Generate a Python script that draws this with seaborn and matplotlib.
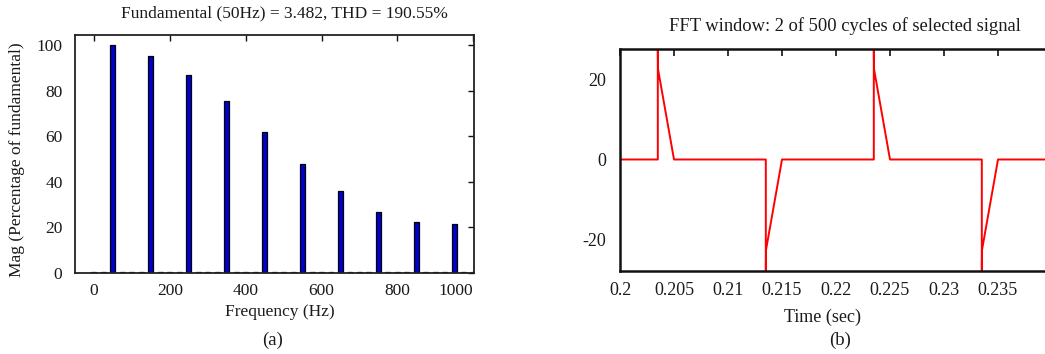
import matplotlib
matplotlib.use("Agg")
import matplotlib.pyplot as plt
import numpy as np
import pandas as pd
import seaborn as sns

# ---------------- data ----------------
freq_hz = [0, 25, 50, 75, 100, 125, 150, 175, 200, 225, 250, 275, 300, 325,
           350, 375, 400, 425, 450, 475, 500, 525, 550, 575, 600, 625, 650,
           675, 700, 725, 750, 775, 800, 825, 850, 875, 900, 925, 950, 975, 1000]
mag_pct = [0.6, 0.6, 100.0, 0.5, 0.5, 0.5, 95.5, 0.5, 0.5, 0.5, 87.0, 0.5, 0.5, 0.5,
           75.5, 0.5, 0.5, 0.5, 62.0, 0.5, 0.5, 0.5, 48.0, 0.5, 0.5, 0.5, 36.0,
           0.5, 0.5, 0.5, 27.0, 0.5, 0.5, 0.5, 22.5, 0.5, 0.5, 0.5, 21.5, 0.5, 0.5]

time_s = [0.200, 0.2035, 0.2035, 0.20352, 0.2050,
          0.2135, 0.2135, 0.21352, 0.2150,
          0.2235, 0.2235, 0.22352, 0.2250,
          0.2335, 0.2335, 0.23352, 0.2350, 0.2400]
signal = [0.0, 0.0, 28.0, 22.5, 0.0,
          0.0, -28.0, -22.5, 0.0,
          0.0, 28.0, 22.5, 0.0,
          0.0, -28.0, -22.5, 0.0, 0.0]

left_xticks = [0, 200, 400, 600, 800, 1000]
left_yticks = [0, 20, 40, 60, 80, 100]
right_xticks = [0.2, 0.205, 0.21, 0.215, 0.22, 0.225, 0.23, 0.235]
right_xticklabels = ["0.2", "0.205", "0.21", "0.215", "0.22", "0.225", "0.23", "0.235"]
right_yticks = [-20, 0, 20]

title_a = "Fundamental (50Hz) = 3.482, THD = 190.55%"
title_b = "FFT window: 2 of 500 cycles of selected signal"

# ---------------- style ----------------
sns.set_style("white")
plt.rcParams["font.family"] = ["Liberation Serif", "DejaVu Serif"]
TXT = "#1a1a1a"
plt.rcParams["text.color"] = TXT
plt.rcParams["axes.labelcolor"] = TXT
plt.rcParams["xtick.color"] = "#111111"
plt.rcParams["ytick.color"] = "#111111"

W, H = 1045, 354
fig = plt.figure(figsize=(W / 100, H / 100), dpi=100)

def ax_rect(l, r, t, b):
    return [l / W, 1 - b / H, (r - l) / W, (b - t) / H]

FS = 12.5

# ---------------- panel (a) ----------------
ax1 = fig.add_axes(ax_rect(75, 474, 35, 273))
df_a = pd.DataFrame({"freq": freq_hz, "mag": mag_pct})
sns.barplot(data=df_a, x="freq", y="mag", native_scale=True, orient="x",
            color="#0000d0", saturation=1, edgecolor="black", linewidth=0.9,
            width=0.52, errorbar=None, ax=ax1)
ax1.set_xlim(-50, 1002)
ax1.set_ylim(0, 104.6)
ax1.set_xticks(left_xticks)
ax1.set_xticklabels([str(v) for v in left_xticks])
ax1.set_yticks(left_yticks)
ax1.set_yticklabels([str(v) for v in left_yticks])
ax1.tick_params(direction="in", top=True, right=True, length=4, width=1,
                labelsize=FS, labelcolor=TXT)
ax1.tick_params(axis="x", pad=7)
ax1.tick_params(axis="y", pad=9)
ax1.get_xticklabels()[-1].set_ha("right")
for s in ax1.spines.values():
    s.set_linewidth(1.3)
    s.set_color("#222222")
ax1.set_xlabel("Frequency (Hz)", fontsize=FS)
ax1.xaxis.set_label_coords(0.514, -0.164)
ax1.xaxis.label.set_va("center")
ax1.set_ylabel("Mag (Percentage of fundamental)", fontsize=FS)
ax1.yaxis.set_label_coords(-0.145, 0.475)
ax1.yaxis.label.set_va("center")
ax1.set_title(title_a, fontsize=FS, x=0.526, y=1.092, va="center", pad=0)

# ---------------- panel (b) ----------------
ax2 = fig.add_axes(ax_rect(620, 1052, 49, 271))
df_b = pd.DataFrame({"t": time_s, "v": signal})
sns.lineplot(data=df_b, x="t", y="v", sort=False, estimator=None,
             color="#ff0000", linewidth=1.4, ax=ax2)
ax2.set_xlim(0.2, 0.24)
ax2.set_ylim(-27.75, 27.5)
ax2.set_xticks(right_xticks)
ax2.set_xticklabels(right_xticklabels)
ax2.set_yticks(right_yticks)
ax2.set_yticklabels([str(v) for v in right_yticks])
ax2.tick_params(direction="in", top=True, right=True, length=5, width=1.2,
                labelsize=FS + 0.5, labelcolor=TXT)
ax2.tick_params(axis="x", pad=8)
ax2.tick_params(axis="y", pad=10)
for s in ax2.spines.values():
    s.set_linewidth(1.8)
    s.set_color("#111111")
ax2.set_xlabel("Time (sec)", fontsize=FS + 0.5)
ax2.xaxis.set_label_coords(0.468, -0.207)
ax2.xaxis.label.set_va("center")
ax2.set_ylabel("")
ax2.set_title(title_b, fontsize=FS + 0.8, x=0.521, y=1.104, va="center", pad=0)

fig.text(273 / W, 1 - 340 / H, "(a)", ha="center", va="center", fontsize=FS + 1)
fig.text(840 / W, 1 - 340 / H, "(b)", ha="center", va="center", fontsize=FS + 1)

fig.savefig("out.png", dpi=100)
